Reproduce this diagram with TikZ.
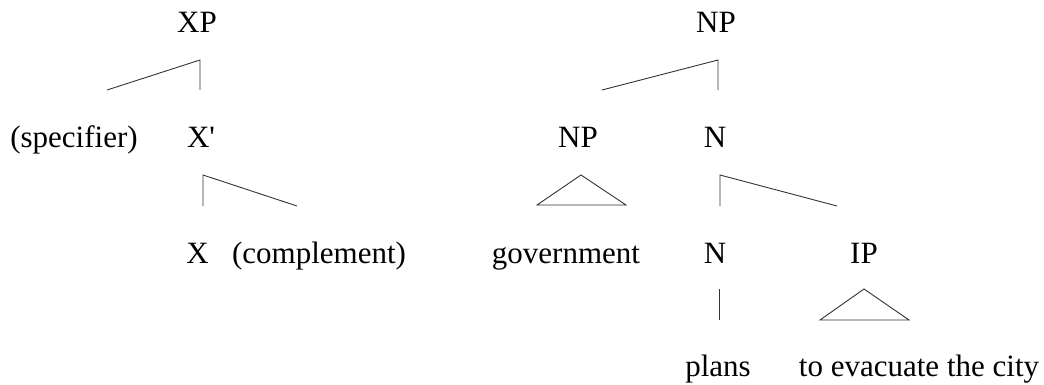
\documentclass[tikz,border=0pt]{standalone}
\usepackage{fontspec}
\setmainfont{Liberation Serif}
\usetikzlibrary{calc}

\begin{document}
\begin{tikzpicture}[x=1pt, y=-1pt,
    lbl/.style={anchor=base, inner sep=0pt, font=\fontsize{31}{37}\selectfont},
    branch/.style={line width=0.9pt, black!80}]
        % --- 1. Parameters (baselines of the rows) ---
        \def\rowA{33}
        \def\rowB{147}
        \def\rowC{263}
        \def\rowD{376}
        \useasboundingbox (0,0) rectangle (1044,385);

        % --- 2. Left tree: the X-bar schema ---
        \node[lbl] (XP) at (197,\rowA) {XP};
        \node[lbl] (Spec) at (74,\rowB) {(specifier)};
        \node[lbl] (Xbar) at (201,\rowB) {X\textquotesingle};
        \node[lbl] (X) at (197.5,\rowC) {X};
        \node[lbl] (Comp) at (319,\rowC) {(complement)};

        % Branches under XP
        \coordinate (XPfork) at (200,60);
        \coordinate (XPleft) at (107,90);
        \coordinate (XPright) at (200,90);
        \draw[branch] (XPleft) -- (XPfork) -- (XPright);

        % Branches under X'
        \coordinate (Xbarfork) at (203,175);
        \coordinate (Xbarleft) at (203,206);
        \coordinate (Xbarright) at (297,206);
        \draw[branch] (Xbarleft) -- (Xbarfork) -- (Xbarright);

        % --- 3. Right tree: the example phrase ---
        \node[lbl] (NPtop) at (716,\rowA) {NP};
        \node[lbl] (NPsub) at (578,\rowB) {NP};
        \node[lbl] (Nbar) at (715,\rowB) {N};
        \node[lbl] (Gov) at (566,\rowC) {government};
        \node[lbl] (Nhead) at (715,\rowC) {N};
        \node[lbl] (IP) at (864,\rowC) {IP};
        \node[lbl] (Plans) at (718,\rowD) {plans};
        \node[lbl] (Evac) at (919,\rowD) {to evacuate the city};

        % Branches under the top NP
        \coordinate (NPfork) at (718,60);
        \coordinate (NPleft) at (602,90);
        \coordinate (NPright) at (718,90);
        \draw[branch] (NPleft) -- (NPfork) -- (NPright);

        % Triangle under the inner NP
        \coordinate (NPapex) at (581,175);
        \coordinate (NPbaseL) at (537,205);
        \coordinate (NPbaseR) at (626,205);
        \draw[branch] (NPapex) -- (NPbaseL) -- (NPbaseR) -- cycle;

        % Branches under N
        \coordinate (Nfork) at (720,175);
        \coordinate (Nleft) at (720,206);
        \coordinate (Nright) at (837,206);
        \draw[branch] (Nleft) -- (Nfork) -- (Nright);

        % N to plans
        \coordinate (Ntop) at (719,289);
        \coordinate (Nbot) at (719,320);
        \draw[branch] (Ntop) -- (Nbot);

        % Triangle under IP
        \coordinate (IPapex) at (864,289);
        \coordinate (IPbaseL) at (820,320);
        \coordinate (IPbaseR) at (909,320);
        \draw[branch] (IPapex) -- (IPbaseL) -- (IPbaseR) -- cycle;
    \end{tikzpicture}
\end{document}
